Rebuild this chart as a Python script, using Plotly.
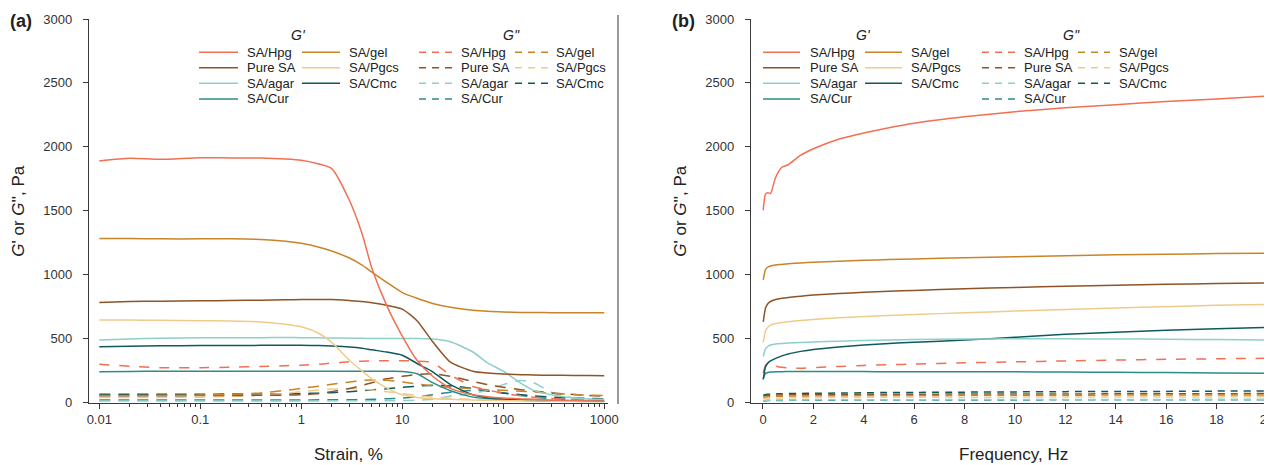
import plotly.graph_objects as go

W, H = 1272, 465
OFF = 8  # default page margin of the html body

# ---------------- data: panel (a) strain sweep ----------------
strain = [0.01, 0.02, 0.04, 0.1, 0.2, 0.4, 0.7, 1, 1.5, 2, 3, 4, 5, 7, 10, 14, 20,
          30, 50, 70, 100, 150, 200, 300, 500, 700, 1000]

a_gp_hpg  = [1890, 1910, 1902, 1915, 1913, 1913, 1905, 1895, 1865, 1830, 1580, 1320, 1050, 760, 520, 330, 205,
             110, 60, 45, 35, 28, 25, 20, 15, 12, 10]
a_gp_gel  = [1283, 1282, 1280, 1280, 1280, 1276, 1262, 1245, 1215, 1185, 1130, 1075, 1020, 940, 860, 815, 775,
             745, 722, 713, 708, 705, 704, 703, 702, 702, 702]
a_gp_pure = [783, 790, 793, 795, 798, 800, 803, 805, 805, 805, 797, 790, 780, 760, 730, 640, 475,
             315, 245, 230, 222, 218, 215, 213, 212, 211, 210]
a_gp_pgcs = [645, 645, 643, 640, 638, 630, 612, 592, 540, 470, 330, 245, 185, 115, 60, 40, 30,
             25, 20, 17, 15, 13, 12, 10, 9, 8, 8]
a_gp_agar = [488, 497, 503, 507, 506, 507, 508, 507, 506, 505, 503, 502, 500, 500, 500, 500, 496,
             475, 395, 310, 245, 150, 95, 60, 35, 28, 25]
a_gp_cmc  = [436, 440, 443, 445, 446, 447, 447, 447, 445, 442, 435, 425, 412, 395, 370, 305, 240,
             140, 60, 38, 28, 22, 18, 14, 11, 10, 9]
a_gp_cur  = [241, 243, 244, 245, 245, 245, 245, 245, 245, 245, 245, 245, 245, 244, 243, 225, 155,
             92, 42, 30, 22, 17, 14, 11, 9, 8, 7]

a_gpp_hpg  = [300, 283, 272, 272, 276, 282, 288, 292, 300, 308, 318, 323, 325, 327, 327, 324, 312,
              215, 125, 98, 72, 52, 42, 32, 22, 18, 15]
a_gpp_gel  = [55, 55, 56, 58, 63, 75, 95, 110, 128, 142, 160, 172, 176, 174, 160, 145, 130,
              118, 108, 100, 95, 88, 82, 72, 62, 57, 55]
a_gpp_pure = [52, 52, 53, 54, 55, 56, 58, 60, 70, 85, 110, 135, 155, 185, 205, 220, 225,
              205, 165, 140, 120, 100, 90, 75, 62, 55, 50]
a_gpp_pgcs = [40, 40, 40, 42, 48, 58, 72, 85, 98, 105, 108, 105, 98, 85, 70, 55, 42,
              32, 24, 20, 17, 14, 12, 10, 9, 8, 8]
a_gpp_agar = [12, 12, 12, 12, 12, 12, 12, 12, 12, 13, 13, 13, 14, 14, 15, 18, 25,
              50, 72, 95, 140, 172, 155, 80, 35, 25, 20]
a_gpp_cmc  = [65, 65, 65, 65, 66, 67, 68, 70, 73, 77, 85, 92, 98, 108, 118, 128, 135,
              130, 110, 92, 75, 60, 52, 42, 35, 32, 30]
a_gpp_cur  = [20, 20, 20, 20, 20, 20, 20, 20, 21, 21, 22, 23, 25, 29, 35, 45, 60,
              80, 95, 90, 75, 55, 42, 30, 22, 18, 15]

# ---------------- data: panel (b) frequency sweep ----------------
freq = [0.01, 0.1, 0.2, 0.3, 0.5, 0.75, 1, 1.5, 2, 3, 4, 5, 6, 8, 10, 12, 14, 16, 18, 20]

b_gp_hpg  = [1504, 1630, 1640, 1635, 1760, 1840, 1860, 1935, 1985, 2060, 2108, 2150, 2185, 2235, 2275,
             2305, 2330, 2355, 2375, 2397]
b_gp_gel  = [960, 1040, 1060, 1068, 1075, 1080, 1085, 1092, 1097, 1105, 1112, 1118, 1123, 1132, 1140,
             1148, 1155, 1160, 1165, 1168]
b_gp_pure = [630, 740, 775, 790, 805, 815, 822, 832, 840, 852, 862, 870, 877, 890, 900,
             910, 918, 925, 930, 935]
b_gp_pgcs = [470, 560, 590, 605, 618, 625, 632, 642, 650, 662, 672, 680, 688, 702, 715,
             728, 740, 750, 760, 768]
b_gp_agar = [360, 420, 440, 450, 458, 462, 465, 470, 474, 480, 485, 489, 492, 496, 498,
             498, 497, 495, 492, 488]
b_gp_cmc  = [180, 280, 310, 325, 345, 365, 380, 400, 415, 435, 450, 462, 472, 488, 510,
             533, 550, 565, 577, 588]
b_gp_cur  = [190, 228, 235, 238, 240, 241, 242, 242, 242, 242, 242, 241, 241, 240, 240,
             238, 236, 234, 231, 228]

b_gpp_hpg  = [230, 290, 305, 300, 285, 275, 270, 268, 272, 282, 290, 295, 300, 310, 318,
              325, 332, 338, 342, 346]
b_gpp_gel  = [40, 44, 46, 47, 48, 49, 50, 51, 52, 53, 54, 55, 55, 56, 57, 57, 58, 58, 58, 58]
b_gpp_pure = [50, 54, 56, 57, 58, 59, 60, 61, 62, 63, 64, 65, 65, 66, 67, 67, 68, 69, 69, 70]
b_gpp_pgcs = [30, 33, 34, 35, 36, 36, 37, 38, 38, 39, 40, 41, 41, 42, 42, 43, 43, 44, 44, 45]
b_gpp_agar = [15, 17, 18, 18, 19, 19, 20, 20, 21, 21, 22, 22, 22, 23, 23, 24, 24, 24, 25, 25]
b_gpp_cmc  = [55, 62, 64, 65, 67, 68, 70, 71, 72, 74, 76, 78, 79, 81, 83, 85, 86, 87, 89, 90]
b_gpp_cur  = [12, 14, 15, 15, 16, 16, 17, 17, 18, 18, 19, 19, 19, 20, 20, 21, 21, 21, 22, 22]

names = ["SA/Hpg", "Pure SA", "SA/agar", "SA/Cur", "SA/gel", "SA/Pgcs", "SA/Cmc"]
colors = {"SA/Hpg": "#F26F52", "SA/gel": "#C98427", "Pure SA": "#8E5427",
          "SA/Pgcs": "#EFCB8A", "SA/agar": "#8DCFCB", "SA/Cmc": "#0E5A5B", "SA/Cur": "#2D8B8A"}

a_gp = {"SA/Hpg": a_gp_hpg, "SA/gel": a_gp_gel, "Pure SA": a_gp_pure, "SA/Pgcs": a_gp_pgcs,
        "SA/agar": a_gp_agar, "SA/Cmc": a_gp_cmc, "SA/Cur": a_gp_cur}
a_gpp = {"SA/Hpg": a_gpp_hpg, "SA/gel": a_gpp_gel, "Pure SA": a_gpp_pure, "SA/Pgcs": a_gpp_pgcs,
         "SA/agar": a_gpp_agar, "SA/Cmc": a_gpp_cmc, "SA/Cur": a_gpp_cur}
b_gp = {"SA/Hpg": b_gp_hpg, "SA/gel": b_gp_gel, "Pure SA": b_gp_pure, "SA/Pgcs": b_gp_pgcs,
        "SA/agar": b_gp_agar, "SA/Cmc": b_gp_cmc, "SA/Cur": b_gp_cur}
b_gpp = {"SA/Hpg": b_gpp_hpg, "SA/gel": b_gpp_gel, "Pure SA": b_gpp_pure, "SA/Pgcs": b_gpp_pgcs,
         "SA/agar": b_gpp_agar, "SA/Cmc": b_gpp_cmc, "SA/Cur": b_gpp_cur}

FONT = "Liberation Sans, Arial, sans-serif"
DASH_LEG = "7px,6px"
DASH_A = "11px,8px"
DASH_HPG = "10px,10px"
DASH_B = "7px,6px"
LW = 1.5
AXC = "#3a3a3a"

fig = go.Figure()

draw_order = ["SA/Cur", "SA/Cmc", "SA/agar", "SA/Pgcs", "Pure SA", "SA/gel", "SA/Hpg"]
for n in draw_order:
    da = DASH_HPG if n == "SA/Hpg" else DASH_A
    db = DASH_HPG if n == "SA/Hpg" else DASH_B
    fig.add_trace(go.Scatter(x=strain, y=a_gpp[n], mode="lines", name=n + " G''",
                             line=dict(color=colors[n], width=LW, dash=da, shape="spline", smoothing=0.6),
                             xaxis="x", yaxis="y", showlegend=False))
    fig.add_trace(go.Scatter(x=freq, y=b_gpp[n], mode="lines", name=n + " G''",
                             line=dict(color=colors[n], width=LW, dash=db, shape="spline", smoothing=0.6),
                             xaxis="x2", yaxis="y2", showlegend=False))
for n in draw_order:
    fig.add_trace(go.Scatter(x=strain, y=a_gp[n], mode="lines", name=n + " G'",
                             line=dict(color=colors[n], width=LW, shape="spline", smoothing=0.6),
                             xaxis="x", yaxis="y", showlegend=False))
    fig.add_trace(go.Scatter(x=freq, y=b_gp[n], mode="lines", name=n + " G'",
                             line=dict(color=colors[n], width=LW, shape="spline", smoothing=0.6),
                             xaxis="x2", yaxis="y2", showlegend=False))


# screen pixel -> paper fraction (page body adds an 8px offset)
def PX(x):
    return (x - OFF) / W


def PY(y):
    return 1 - (y - OFF) / H


ydom = [PY(402.5), PY(19)]
tickfont = dict(family=FONT, size=13, color="#333333")

minor_vals = []
for e in range(-2, 3):
    for m in range(2, 10):
        minor_vals.append(m * 10 ** e)

common_ax = dict(showline=True, linecolor=AXC, linewidth=1.3, ticks="outside", ticklen=5,
                 tickwidth=1.2, tickcolor=AXC, showgrid=False, zeroline=False,
                 tickfont=tickfont, automargin=False, ticklabeloverflow="allow")

fig.update_layout(
    width=W, height=H,
    margin=dict(l=0, r=0, t=0, b=0),
    paper_bgcolor="white", plot_bgcolor="white",
    showlegend=False,
    xaxis=dict(type="log", range=[-2.102, 3.037], domain=[PX(89), PX(608)], anchor="y",
               tickvals=[0.01, 0.1, 1, 10, 100, 1000], ticktext=["0.01", "0.1", "1", "10", "100", "1000"],
               minor=dict(ticks="outside", ticklen=3, tickwidth=1, tickcolor=AXC, tickvals=minor_vals),
               ticklabelstandoff=0, **common_ax),
    yaxis=dict(range=[0, 3000], domain=ydom, anchor="x", tickvals=[0, 500, 1000, 1500, 2000, 2500, 3000],
               ticklabelstandoff=8, **common_ax),
    xaxis2=dict(range=[-0.476, 20.2], domain=[PX(751), PX(1272)], anchor="y2",
                tickvals=[0, 2, 4, 6, 8, 10, 12, 14, 16, 18, 20], ticklabelstandoff=0, **common_ax),
    yaxis2=dict(range=[0, 3000], domain=ydom, anchor="x2", tickvals=[0, 500, 1000, 1500, 2000, 2500, 3000],
                ticklabelstandoff=8, **common_ax),
)

ann = []
shapes = []


def text(x, y, s, size=13, anchor="left", bold=False, angle=0, italic=False):
    t = s
    if bold:
        t = "<b>" + t + "</b>"
    if italic:
        t = "<i>" + t + "</i>"
    ann.append(dict(x=PX(x), y=PY(y), xref="paper", yref="paper", text=t, showarrow=False,
                    xanchor=anchor, yanchor="middle", textangle=angle,
                    font=dict(family=FONT, size=size, color="#222222")))


# panel labels
text(21, 21, "(a)", size=18, anchor="center", bold=True)
text(683, 21, "(b)", size=18, anchor="center", bold=True)
# axis titles
ytitle = "<i>G</i>' or <i>G</i>'', Pa"
text(19, 210.7, ytitle, size=17, anchor="center", angle=-90)
text(681, 210.7, ytitle, size=17, anchor="center", angle=-90)
text(348.5, 454, "Strain, %", size=17, anchor="center")
text(1013, 454, "Frequency, Hz", size=17, anchor="center")

# manual legends
rows_y = [52.3, 67.7, 83.3, 99]
col1 = ["SA/Hpg", "Pure SA", "SA/agar", "SA/Cur"]
col2 = ["SA/gel", "SA/Pgcs", "SA/Cmc"]
legend_layout = [
    (298, 512, [(199, 238, 245), (302, 340, 347), (419, 452, 459), (515, 548, 554)]),
    (863, 1072, [(763, 800, 808), (865, 902, 909), (982, 1015, 1022), (1078, 1110, 1117)]),
]
for gx1, gx2, cols in legend_layout:
    text(gx1, 35, "G'", size=14, anchor="center", italic=True)
    text(gx2, 35, "G''", size=14, anchor="center", italic=True)
    for ci, (x0, x1, tx) in enumerate(cols):
        items = col1 if ci % 2 == 0 else col2
        dashed = ci >= 2
        for ri, n in enumerate(items):
            y = rows_y[ri]
            shapes.append(dict(type="line", xref="paper", yref="paper", x0=PX(x0), x1=PX(x1),
                               y0=PY(y), y1=PY(y),
                               line=dict(color=colors[n], width=1.5, dash=DASH_LEG if dashed else "solid")))
            text(tx, y, n, size=13, anchor="left")

# thin frame line between the panels
shapes.append(dict(type="line", xref="paper", yref="paper", x0=PX(618), x1=PX(618), y0=PY(15), y1=PY(404),
                   line=dict(color="#555555", width=1.2)))

fig.update_layout(annotations=ann, shapes=shapes)
fig.write_html("out.html")
